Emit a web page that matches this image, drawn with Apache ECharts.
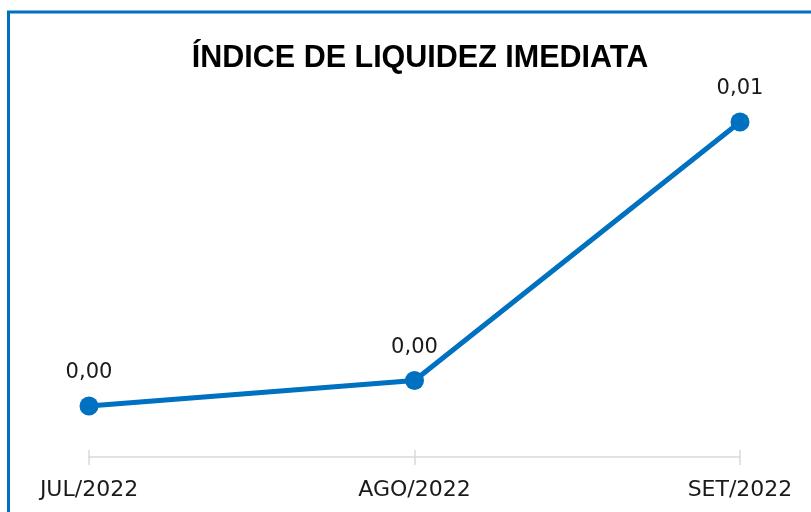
<!DOCTYPE html>
<html><head><meta charset="utf-8">
<script src="https://cdn.jsdelivr.net/npm/echarts@6/dist/echarts.min.js"></script>
<style>html,body{margin:0;padding:0;background:#fff}#c{width:811px;height:512px}</style>
</head><body><div id="c"></div>
<script>
const categories = ['JUL/2022', 'AGO/2022', 'SET/2022'];
const values = [0.0016, 0.0024, 0.0105];
const titleText = 'ÍNDICE DE LIQUIDEZ IMEDIATA';

const chart = echarts.init(document.getElementById('c'));
chart.setOption({
  animation: false,
  backgroundColor: '#fff',
  title: {
    text: titleText, left: 415, top: 38, textAlign: 'center',
    textStyle: { fontFamily: 'Liberation Sans', fontWeight: 'bold', fontSize: 30.5, color: '#000' }
  },
  graphic: [{
    type: 'rect', shape: { x: 8.5, y: 12, width: 900, height: 600 },
    style: { fill: 'none', stroke: '#0070C0', lineWidth: 3 }, silent: true
  }],
  grid: { left: 89, right: 71, top: 122, bottom: 55 },
  xAxis: [{
    type: 'category', data: categories, boundaryGap: false,
    axisLine: { lineStyle: { color: '#d9d9d9', width: 1.5 } },
    axisTick: { show: true, length: 8, lineStyle: { color: '#d9d9d9', width: 1.5 } },
    axisLabel: { color: '#1a1a1a', fontFamily: 'DejaVu Sans', fontSize: 22, margin: 22 }
  }, {
    type: 'category', data: categories, boundaryGap: false, position: 'bottom',
    axisLine: { show: false },
    axisTick: { show: true, inside: true, length: 7, lineStyle: { color: '#d9d9d9', width: 1.5 } },
    axisLabel: { show: false }
  }],
  yAxis: { type: 'value', min: 0, max: 0.0105, show: false, splitLine: { show: false } },
  series: [{
    type: 'line', data: values, symbol: 'circle', symbolSize: 19,
    lineStyle: { color: '#0070C0', width: 5 }, itemStyle: { color: '#0070C0' },
    label: {
      show: true, position: 'top', distance: 13, color: '#1a1a1a', fontFamily: 'DejaVu Sans', fontSize: 21,
      formatter: p => p.value.toFixed(2).replace('.', ',')
    }
  }]
});
</script></body></html>
